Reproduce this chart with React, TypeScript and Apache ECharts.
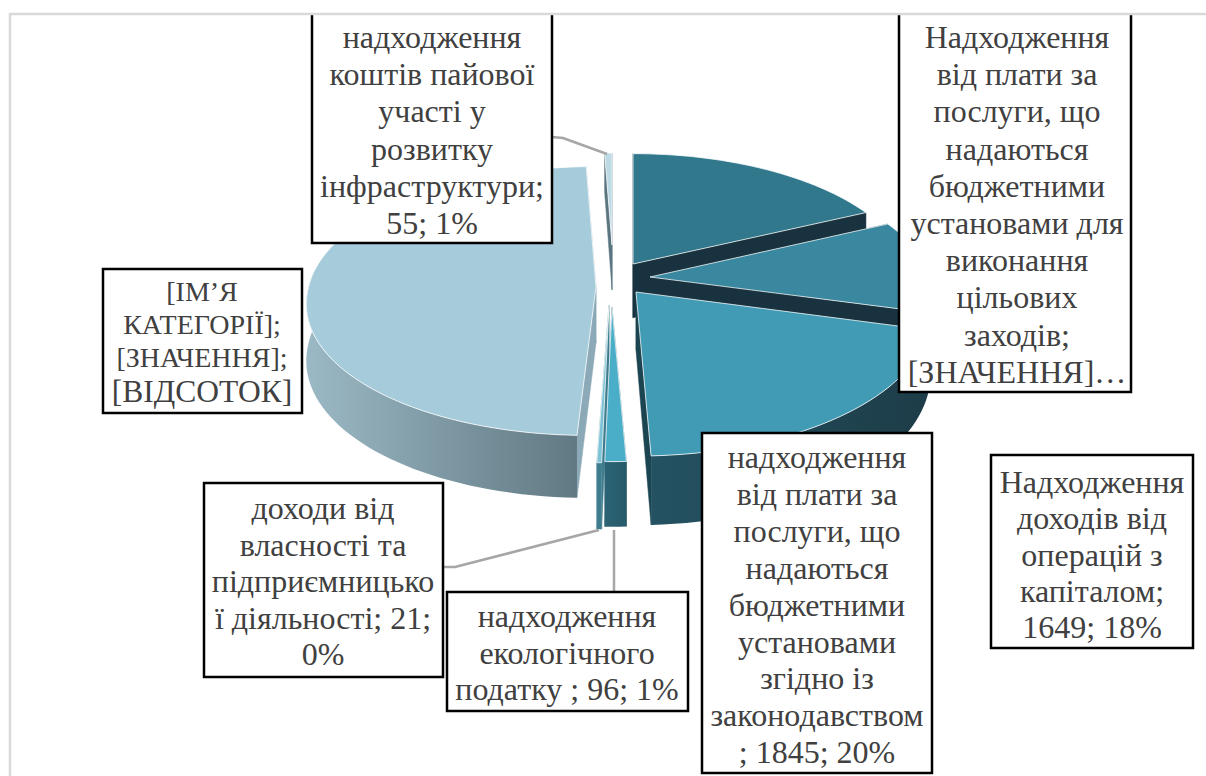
import React, { useEffect, useRef } from "react";
import * as echarts from "echarts";

// ---- data ----
const categories = [
  "Надходження доходів від операцій з капіталом",
  "Надходження від плати за послуги, що надаються бюджетними установами для виконання цільових заходів",
  "надходження від плати за послуги, що надаються бюджетними установами згідно із законодавством",
  "надходження екологічного податку",
  "доходи від власності та підприємницької діяльності",
  "загальні надходження",
  "надходження коштів пайової участі у розвитку інфраструктури",
];
const values = [1649, 1040, 1845, 96, 21, 4490, 55];

const labelA = ["надходження", "коштів пайової", "участі у", "розвитку", "інфраструктури;", "55; 1%"];
const labelB = ["Надходження", "від плати за", "послуги, що", "надаються", "бюджетними", "установами для", "виконання", "цільових", "заходів;", "[ЗНАЧЕННЯ]…"];
const labelC1 = ["[ІМ’Я", "КАТЕГОРІЇ];", "[ЗНАЧЕННЯ];"];
const labelC2 = ["[ВІДСОТОК]"];
const labelD = ["доходи від", "власності та", "підприємницько", "ї діяльності; 21;", "0%"];
const labelE = ["надходження", "екологічного", "податку ; 96; 1%"];
const labelF = ["надходження", "від плати за", "послуги, що", "надаються", "бюджетними", "установами", "згідно із", "законодавством", "; 1845; 20%"];
const labelG = ["Надходження", "доходів від", "операцій з", "капіталом;", "1649; 18%"];

// ---- layout of the 3D pie (one entry per slice) ----
const CX = 620, CY = 290, RX = 284, RY = 133, DEPTH = 56, START = -90;
const explodeX = [13, 30, 16, -8, -11, -24, -8];
const explodeY = [-26, -13, 2, 17, 15, -3, -45];
const sliceScale = [0.96, 0.99, 1.04, 0.98, 1, 1, 0.8];
const widthScale = [1.01, 1, 0.985, 1, 1, 1.012, 1];
const frontLean = [0, 0, 0, 0, 0, -0.05, 0];
const slicePersp = [0.157, 0.157, 0.157, 0.157, 0.157, 0.104, 0.157];
const topColors = ["#31788c", "#3a88a0", "#429bb5", "#4baec9", "#7cc3d6", "#a6ccdc", "#bcd9e4"];
const faceColors = ["#18333f", "#18333f", "#1c4552", "#255a6a", "#3f7d8e", "#8ba9b6", "#5a7480"];
const wallLeft = ["#1d3f4b", "#1d3f4b", "#245262", "#2b6475", "#3f7d8e", "#9bb9c5", "#5a7480"];
const wallRight = ["#1d3f4b", "#1d3f4b", "#1d3c48", "#255a6a", "#3f7d8e", "#617983", "#5a7480"];
const paintOrder = [0, 6, 1, 5, 2, 4, 3];

const total = values.reduce((a, b) => a + b, 0);
const starts: number[] = [];
values.reduce((acc, v, i) => {
  starts[i] = acc;
  return acc + (v / total) * 360;
}, START);

function point(i: number, deg: number) {
  const t = (deg * Math.PI) / 180;
  const k = slicePersp[i];
  const d = 1 - k * Math.sin(t);
  const sc = sliceScale[i];
  const dy = (RY * sc * Math.sin(t)) / d;
  return {
    x: CX + explodeX[i] + (RX * sc * widthScale[i] * Math.cos(t)) / d + frontLean[i] * Math.max(dy, 0),
    y: CY + explodeY[i] + dy,
    h: (DEPTH * sc) / d,
  };
}

function renderSlice(params: any, api: any) {
  const i = api.value(0);
  const v = api.value(1);
  const a0 = starts[i];
  const a1 = a0 + (v / total) * 360;
  const n = Math.max(3, Math.ceil((a1 - a0) / 2));
  const arc: { x: number; y: number; h: number; deg: number }[] = [];
  for (let j = 0; j <= n; j++) {
    const deg = a0 + ((a1 - a0) * j) / n;
    arc.push({ ...point(i, deg), deg });
  }
  const apex = { x: CX + explodeX[i], y: CY + explodeY[i], h: DEPTH * sliceScale[i] };
  const faceStyle = { fill: faceColors[i], stroke: faceColors[i], lineWidth: 0.5 };
  const quad = (p: any) => [[apex.x, apex.y], [p.x, p.y], [p.x, p.y + p.h], [apex.x, apex.y + apex.h]];
  const children: any[] = [
    { type: "polygon", shape: { points: quad(arc[0]) }, style: faceStyle },
    { type: "polygon", shape: { points: quad(arc[n]) }, style: faceStyle },
  ];
  const front = arc.filter((p) => Math.sin((p.deg * Math.PI) / 180) >= -0.14);
  if (front.length > 1) {
    const pts = [
      ...front.map((p) => [p.x, p.y]),
      ...front.slice().reverse().map((p) => [p.x, p.y + p.h]),
    ];
    children.push({
      type: "polygon",
      shape: { points: pts },
      style: {
        fill: new echarts.graphic.LinearGradient(0, 0, 1, 0, [
          { offset: 0, color: wallLeft[i] },
          { offset: 1, color: wallRight[i] },
        ]),
      },
    });
  }
  children.push({
    type: "polygon",
    shape: { points: [[apex.x, apex.y], ...arc.map((p) => [p.x, p.y])] },
    style: { fill: topColors[i], stroke: "rgba(255,255,255,0.75)", lineWidth: 1 },
  });
  return { type: "group", children };
}

// ---- label boxes ----
const INK = "#404040";
const FONT = '"Liberation Serif", "Times New Roman", serif';
type Box = { x0: number; y0: number; x1: number; y1: number };

function box(b: Box) {
  return {
    type: "rect",
    z: 100,
    shape: { x: b.x0, y: b.y0, width: b.x1 - b.x0, height: b.y1 - b.y0 },
    style: { fill: "#ffffff", stroke: "#000000", lineWidth: 2.5 },
  };
}
function lines(list: string[], cx: number, first: number, lh: number, size: number) {
  return list.map((t, i) => ({
    type: "text",
    z: 101,
    x: cx,
    y: first + i * lh,
    style: { text: t, fontFamily: FONT, fontSize: size, fill: INK, align: "center", verticalAlign: "middle" },
  }));
}
function leader(points: number[][]) {
  return {
    type: "polyline",
    z: 50,
    shape: { points },
    style: { stroke: "#a6a6a6", lineWidth: 2.5, fill: "none" },
  };
}

export default function App() {
  const ref = useRef<HTMLDivElement>(null);
  useEffect(() => {
    const chart = echarts.init(ref.current!, undefined, { renderer: "svg" });
    chart.setOption({
      animation: false,
      backgroundColor: "#ffffff",
      series: [
        {
          type: "custom",
          coordinateSystem: "none",
          silent: true,
          renderItem: renderSlice,
          data: paintOrder.map((i) => ({ name: categories[i], value: [i, values[i]] })),
        },
      ],
      graphic: {
        elements: [
          leader([[552, 137], [563, 138], [607, 154]]),
          leader([[443, 567], [455, 567], [599, 530]]),
          leader([[614, 530], [614, 592]]),
          box({ x0: 312, y0: 0, x1: 552, y1: 243 }),
          ...lines(labelA, 432, 37, 37.2, 32),
          box({ x0: 899, y0: 0, x1: 1131, y1: 392 }),
          ...lines(labelB, 1017, 37, 37.2, 32),
          box({ x0: 103, y0: 269, x1: 302, y1: 413 }),
          ...lines(labelC1, 202, 291, 33, 28),
          ...lines(labelC2, 202, 391, 33, 31.5),
          box({ x0: 204, y0: 483, x1: 443, y1: 677 }),
          ...lines(labelD, 323, 508, 36.5, 32),
          box({ x0: 447, y0: 592, x1: 688, y1: 711 }),
          ...lines(labelE, 567, 616, 36.5, 32),
          box({ x0: 702, y0: 433, x1: 932, y1: 773 }),
          ...lines(labelF, 817, 457, 36.9, 32),
          box({ x0: 991, y0: 455, x1: 1193, y1: 648 }),
          ...lines(labelG, 1092, 482, 36.3, 32),
          { type: "rect", z: 110, shape: { x: 0, y: 0, width: 1206, height: 14 }, style: { fill: "#ffffff" } },
          { type: "rect", z: 111, shape: { x: 0, y: 14, width: 9, height: 762 }, style: { fill: "#ffffff" } },
          { type: "polyline", z: 112, shape: { points: [[10, 776], [10, 14], [1206, 14]] }, style: { stroke: "#d9d9d9", lineWidth: 2.5, fill: "none" } },
        ],
      },
    } as any);
    return () => chart.dispose();
  }, []);
  return <div ref={ref} style={{ position: "fixed", left: 0, top: 0, width: 1206, height: 776 }} />;
}
